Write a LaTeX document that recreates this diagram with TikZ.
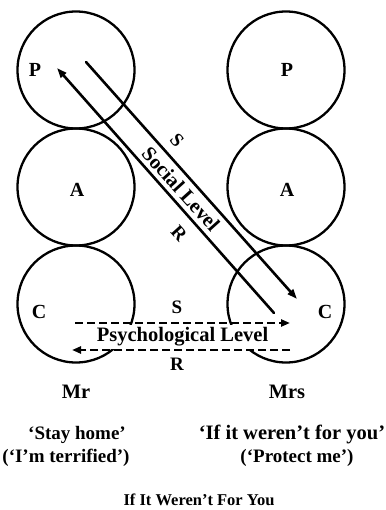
\documentclass[tikz,border=0pt]{standalone}
\usepackage{fontspec}
\setmainfont{Liberation Serif}
\usetikzlibrary{arrows.meta}
\tikzset{
  ego/.style={circle, draw, line width=2.3pt, minimum size=117pt, inner sep=0pt},
  letter/.style={font=\bfseries\fontsize{20}{20}\selectfont, inner sep=0pt},
  lbl/.style={font=\bfseries\fontsize{19}{19}\selectfont, inner sep=0pt},
  biglbl/.style={font=\bfseries\fontsize{20.5}{20.5}\selectfont, inner sep=0pt},
  captiontext/.style={font=\bfseries\fontsize{16.5}{16.5}\selectfont, inner sep=0pt},
  social/.style={line width=2.6pt, line cap=round, -{Triangle[length=10pt,width=7pt]}},
  psych/.style={line width=2.8pt, dash pattern=on 8pt off 4pt, -{Triangle[length=9pt,width=7pt]}},
}
\begin{document}
\begin{tikzpicture}[x=1pt,y=-1pt]
\useasboundingbox (0,0) rectangle (385,510);
\fill[white] (0,0) rectangle (385,510);
% ego state circles
\node[ego] (mrP) at (76,70) {};
\node[ego] (mrA) at (76,187) {};
\node[ego] (mrC) at (76,304) {};
\node[ego] (msP) at (286,70) {};
\node[ego] (msA) at (286,187) {};
\node[ego] (msC) at (286,304) {};
% letters
\node[letter] (tmrP) at (35,70) {P};
\node[letter] (tmrA) at (77,190) {A};
\node[letter] (tmrC) at (39,312) {C};
\node[letter] (tmsP) at (287,70) {P};
\node[letter] (tmsA) at (287,190) {A};
\node[letter] (tmsC) at (325,312) {C};
% social level
\coordinate (s1a) at (86,62);
\coordinate (s1b) at (297,299);
\coordinate (s2a) at (274,313);
\coordinate (s2b) at (57,68);
\draw[social] (s1a) -- (s1b);
\draw[social] (s2a) -- (s2b);
\node[lbl, rotate=-48] (socS) at (177,140) {S};
\node[lbl, rotate=-48] (socR) at (179,233) {R};
\node[biglbl, rotate=-48] (soctxt) at (181,189) {Social Level};
% psychological level
\fill[white] (72,324.5) rectangle (292,348.5);
\coordinate (p1a) at (75,323);
\coordinate (p1b) at (290,323);
\coordinate (p2a) at (290,350);
\coordinate (p2b) at (72,350);
\draw[psych] (p1a) -- (p1b);
\draw[psych] (p2a) -- (p2b);
\node[lbl] (psS) at (177,307) {S};
\node[lbl] (psR) at (177,364) {R};
\node[biglbl, anchor=base] (pstxt) at (182.5,341) {Psychological Level};
% names and texts
\node[biglbl, anchor=base] (mr) at (76,398) {Mr};
\node[biglbl, anchor=base] (mrs) at (287,398) {Mrs};
\node[lbl, anchor=base] (mr1) at (77,439) {‘Stay home’};
\node[lbl, anchor=base] (mr2) at (66,462) {(‘I’m terrified’)};
\node[biglbl, anchor=base] (ms1) at (292,439) {‘If it weren’t for you’};
\node[lbl, anchor=base] (ms2) at (297,462) {(‘Protect me’)};
\node[captiontext, anchor=base] (title) at (199,505) {If It Weren’t For You};
\end{tikzpicture}
\end{document}
